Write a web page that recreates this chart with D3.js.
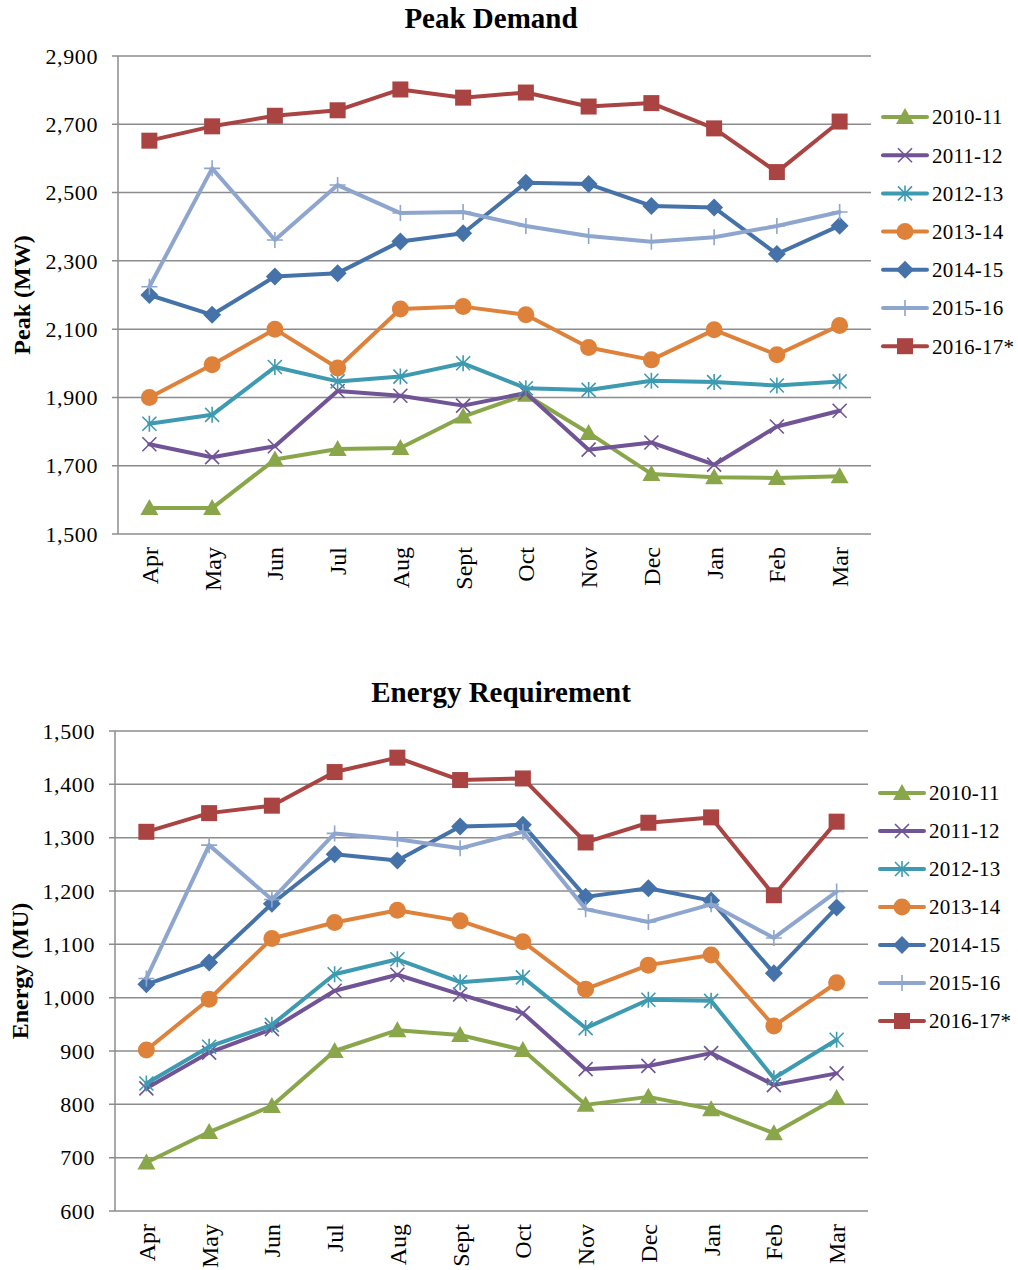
<!DOCTYPE html>
<html><head><meta charset="utf-8">
<script src="https://cdn.jsdelivr.net/npm/d3@7"></script>
<style>
body{margin:0;background:#fff;}
text{font-family:"Liberation Serif","DejaVu Serif",serif;fill:#000;}
</style></head>
<body>
<svg id="c" width="1018" height="1270"></svg>
<script>
const months = ["Apr","May","Jun","Jul","Aug","Sept","Oct","Nov","Dec","Jan","Feb","Mar"];
const seriesNames = ["2010-11","2011-12","2012-13","2013-14","2014-15","2015-16","2016-17*"];
const colors = ["#8aa64a","#705496","#3e9ab0","#de823b","#4572a9","#8ea6ce","#a94442"];
const markers = ["triangle","x","asterisk","circle","diamond","plus","square"];

const peakTicks = [1500,1700,1900,2100,2300,2500,2700,2900];
const peak2010 = [1576,1576,1718,1749,1752,1844,1908,1796,1676,1666,1664,1669];
const peak2011 = [1763,1725,1757,1919,1905,1876,1913,1747,1768,1703,1815,1861];
const peak2012 = [1823,1849,1989,1947,1961,2000,1927,1922,1949,1945,1935,1947];
const peak2013 = [1900,1996,2100,1986,2159,2166,2142,2046,2010,2098,2025,2111];
const peak2014 = [2200,2142,2254,2264,2357,2381,2529,2525,2461,2456,2320,2403];
const peak2015 = [2224,2571,2361,2522,2440,2443,2402,2373,2356,2369,2402,2443];
const peak2016 = [2652,2694,2725,2741,2802,2778,2793,2752,2762,2688,2560,2708];

const energyTicks = [600,700,800,900,1000,1100,1200,1300,1400,1500];
const energy2010 = [691,748,797,900,939,930,902,799,814,791,746,812];
const energy2011 = [830,897,941,1013,1043,1006,971,866,872,896,836,858];
const energy2012 = [839,908,949,1044,1072,1029,1038,943,996,994,849,921];
const energy2013 = [902,997,1111,1141,1164,1144,1105,1016,1061,1080,947,1028];
const energy2014 = [1025,1066,1176,1269,1257,1321,1324,1189,1205,1182,1046,1169];
const energy2015 = [1036,1286,1184,1308,1297,1280,1311,1166,1142,1175,1112,1199];
const energy2016 = [1311,1346,1360,1423,1450,1408,1411,1291,1328,1338,1192,1330];

const svg = d3.select("#c");

function drawMarker(g, type, color, x, y) {
  const m = g.append("g").attr("transform", `translate(${x},${y})`);
  if (type === "square") {
    m.append("rect").attr("x",-8).attr("y",-8).attr("width",16).attr("height",16).attr("fill",color);
  } else if (type === "circle") {
    m.append("circle").attr("r",8.5).attr("fill",color);
  } else if (type === "diamond") {
    m.append("path").attr("d","M0,-9L9,0L0,9L-9,0Z").attr("fill",color);
  } else if (type === "triangle") {
    m.append("path").attr("d","M0,-9L9,7L-9,7Z").attr("fill",color);
  } else if (type === "x") {
    m.append("path").attr("d","M-7,-7L7,7M-7,7L7,-7").attr("stroke",color).attr("stroke-width",1.6).attr("fill","none");
  } else if (type === "asterisk") {
    m.append("path").attr("d","M-7,-7L7,7M-7,7L7,-7M0,-8L0,8").attr("stroke",color).attr("stroke-width",1.6).attr("fill","none");
  } else if (type === "plus") {
    m.append("path").attr("d","M-8,0L8,0M0,-8L0,8").attr("stroke",color).attr("stroke-width",1.6).attr("fill","none");
  }
}

function drawChart(cfg) {
  const g = svg.append("g");
  const x = d3.scalePoint().domain(months).range([cfg.x0, cfg.x1]).padding(0.5);
  const y = d3.scaleLinear().domain([cfg.ticks[0], cfg.ticks[cfg.ticks.length-1]]).range([cfg.y0, cfg.y1]);

  g.append("g").selectAll("line").data(cfg.ticks).join("line")
    .attr("x1", cfg.x0 - 6).attr("x2", cfg.x1)
    .attr("y1", d => y(d)).attr("y2", d => y(d))
    .attr("stroke", "#8c8c8c").attr("stroke-width", 1.5);
  g.append("line").attr("x1", cfg.x0).attr("x2", cfg.x0).attr("y1", cfg.y1).attr("y2", cfg.y0)
    .attr("stroke", "#8c8c8c").attr("stroke-width", 1.5);

  const fmt = d3.format(",");
  g.append("g").selectAll("text").data(cfg.ticks).join("text")
    .attr("x", cfg.x0 - 20).attr("y", d => y(d)).attr("dy", "0.35em")
    .attr("text-anchor", "end").attr("font-size", 22).attr("letter-spacing", 0.6).text(d => fmt(d));

  g.append("g").selectAll("text").data(months).join("text")
    .attr("transform", d => `translate(${x(d)},${cfg.y0 + 13}) rotate(-90)`)
    .attr("dy", "0.35em").attr("text-anchor", "end").attr("font-size", 24).text(d => d);

  g.append("text").attr("x", cfg.titleX).attr("y", cfg.titleY).attr("text-anchor", "middle")
    .attr("font-size", 29).attr("font-weight", "bold").text(cfg.title);
  g.append("text").attr("transform", `translate(${cfg.ytX},${(cfg.y0+cfg.y1)/2}) rotate(-90)`)
    .attr("text-anchor", "middle").attr("dy", "0.35em").attr("font-size", 24).attr("font-weight", "bold").text(cfg.ytitle);

  const line = d3.line().x((d,i) => x(months[i])).y(d => y(d));
  cfg.series.forEach((s, si) => {
    g.append("path").attr("d", line(s)).attr("fill", "none").attr("stroke", colors[si])
      .attr("stroke-width", 4).attr("stroke-linejoin", "round").attr("stroke-linecap", "round");
    s.forEach((v, i) => drawMarker(g, markers[si], colors[si], x(months[i]), y(v)));
  });

  seriesNames.forEach((name, si) => {
    const ly = cfg.legY + si * cfg.legStep;
    g.append("line").attr("x1", cfg.legX).attr("x2", cfg.legX + 44).attr("y1", ly).attr("y2", ly)
      .attr("stroke", colors[si]).attr("stroke-width", 4).attr("stroke-linecap", "round");
    drawMarker(g, markers[si], colors[si], cfg.legX + 22, ly);
    g.append("text").attr("x", cfg.legX + 49).attr("y", ly).attr("dy", "0.35em")
      .attr("font-size", 21).attr("letter-spacing", 0.2).text(name);
  });
}

drawChart({
  x0: 118, x1: 871, y0: 534, y1: 56,
  ticks: peakTicks, title: "Peak Demand", titleX: 491, titleY: 28,
  ytitle: "Peak (MW)", ytX: 22,
  series: [peak2010, peak2011, peak2012, peak2013, peak2014, peak2015, peak2016],
  legX: 883, legY: 117, legStep: 38.2
});

drawChart({
  x0: 115, x1: 868, y0: 1211, y1: 731,
  ticks: energyTicks, title: "Energy Requirement", titleX: 501, titleY: 702,
  ytitle: "Energy (MU)", ytX: 20,
  series: [energy2010, energy2011, energy2012, energy2013, energy2014, energy2015, energy2016],
  legX: 880, legY: 793, legStep: 38.0
});
</script>
</body></html>
